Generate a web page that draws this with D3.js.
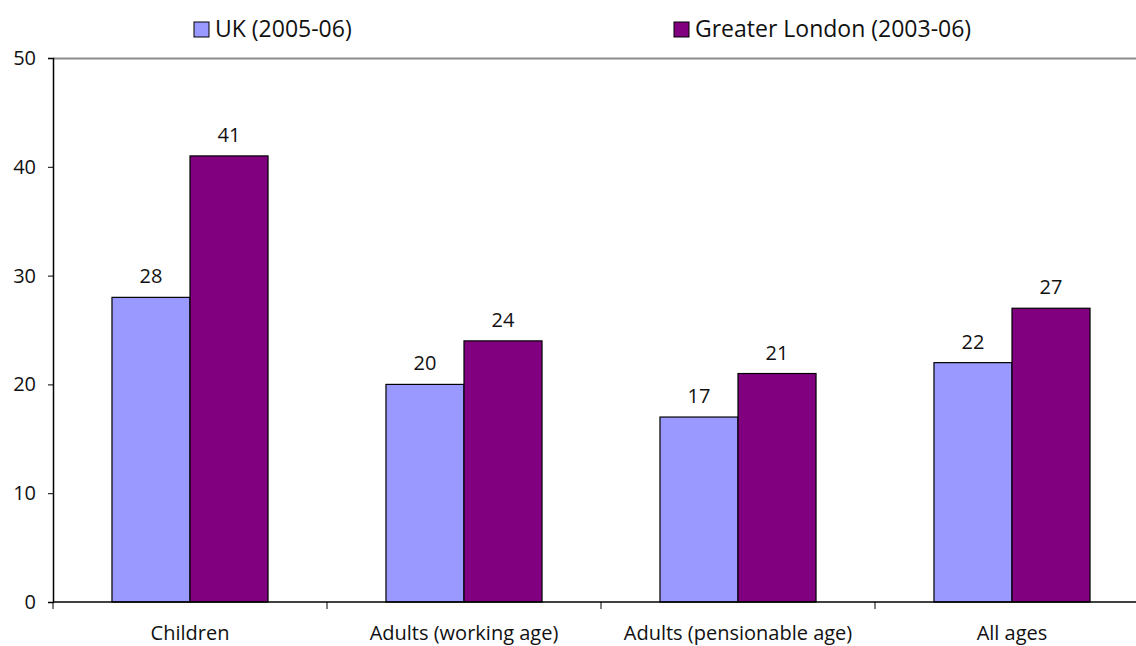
<!DOCTYPE html>
<html>
<head>
<meta charset="utf-8">
<script src="https://cdn.jsdelivr.net/npm/d3@7"></script>
<style>
  html, body { margin: 0; padding: 0; background: #fff; }
  svg { display: block; font-family: "Open Sans", "Noto Sans", sans-serif; }
</style>
</head>
<body>
<svg id="chart" width="1136" height="646"></svg>
<script>
const categories = ["Children", "Adults (working age)", "Adults (pensionable age)", "All ages"];
const seriesNames = ["UK (2005-06)", "Greater London (2003-06)"];
const ukValues = [28, 20, 17, 22];
const londonValues = [41, 24, 21, 27];
const yTicks = [0, 10, 20, 30, 40, 50];
const colors = ["#9999FF", "#800080"];

const svg = d3.select("#chart");
const plotLeft = 53, plotTop = 58, plotBottom = 602, bandW = 274;
const plotRight = plotLeft + bandW * categories.length;

const x = d3.scaleBand().domain(categories).range([plotLeft, plotRight]).paddingInner(0).paddingOuter(0);
const xInner = d3.scaleBand().domain(seriesNames).range([0, x.bandwidth()]).paddingInner(0).paddingOuter(0.756);
const y = d3.scaleLinear().domain([0, 50]).range([plotBottom, plotTop]);

// top border of plot area
svg.append("line")
  .attr("x1", plotLeft).attr("x2", 1136)
  .attr("y1", plotTop + 0.5).attr("y2", plotTop + 0.5)
  .attr("stroke", "#8c8c8c").attr("stroke-width", 2);

const rows = categories.map((c, i) => ({ cat: c, vals: [ukValues[i], londonValues[i]] }));

const groups = svg.append("g").selectAll("g").data(rows).join("g")
  .attr("transform", d => `translate(${x(d.cat)},0)`);

groups.selectAll("rect").data(d => d.vals.map((v, j) => ({ v, s: seriesNames[j], j })))
  .join("rect")
  .attr("x", d => xInner(d.s))
  .attr("width", xInner.bandwidth())
  .attr("y", d => y(d.v))
  .attr("height", d => y(0) - y(d.v))
  .attr("fill", d => colors[d.j])
  .attr("stroke", "#000").attr("stroke-width", 1.2);

groups.selectAll("text").data(d => d.vals.map((v, j) => ({ v, s: seriesNames[j] })))
  .join("text")
  .attr("x", d => xInner(d.s) + xInner.bandwidth() / 2)
  .attr("y", d => y(d.v) - 14)
  .attr("text-anchor", "middle")
  .attr("font-size", 20)
  .attr("fill", "#111")
  .text(d => d.v);

// y axis
const yAxis = svg.append("g")
  .attr("transform", `translate(${plotLeft},0)`)
  .call(d3.axisLeft(y).tickValues(yTicks).tickSize(5).tickPadding(12));
yAxis.select(".domain").attr("stroke", "#000").attr("stroke-width", 1.5);
yAxis.selectAll(".tick line").attr("stroke", "#000");
yAxis.selectAll("text").attr("font-size", 20).attr("fill", "#111")
  .attr("font-family", "'Open Sans', 'Noto Sans', sans-serif");

// x axis baseline and category separators
svg.append("line")
  .attr("x1", plotLeft).attr("x2", 1136)
  .attr("y1", plotBottom).attr("y2", plotBottom)
  .attr("stroke", "#000").attr("stroke-width", 1.5);
const sepX = d3.range(categories.length + 1).map(i => plotLeft + i * x.step());
svg.append("g").selectAll("line").data(sepX).join("line")
  .attr("x1", d => d).attr("x2", d => d)
  .attr("y1", plotBottom).attr("y2", plotBottom + 7)
  .attr("stroke", "#000");
svg.append("g").selectAll("text").data(categories).join("text")
  .attr("x", d => x(d) + x.bandwidth() / 2)
  .attr("y", 640)
  .attr("text-anchor", "middle")
  .attr("font-size", 20)
  .attr("fill", "#111")
  .text(d => d);

// legend
const legendX = [194, 674];
const leg = svg.append("g").selectAll("g").data(seriesNames).join("g")
  .attr("transform", (d, i) => `translate(${legendX[i]},22)`);
leg.append("rect")
  .attr("width", 15).attr("height", 15)
  .attr("fill", (d, i) => colors[i])
  .attr("stroke", "#000").attr("stroke-width", 1);
leg.append("text")
  .attr("x", 21).attr("y", 15)
  .attr("font-size", 23)
  .attr("fill", "#111")
  .text(d => d);
</script>
</body>
</html>
